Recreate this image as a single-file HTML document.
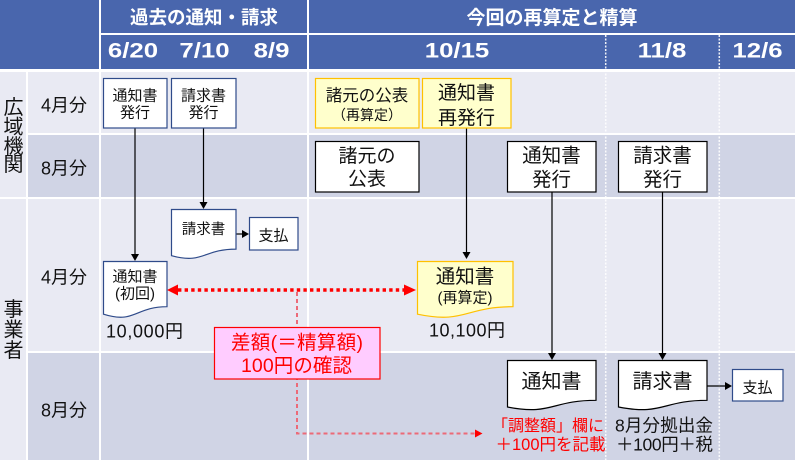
<!DOCTYPE html>
<html><head><meta charset="utf-8">
<style>
html,body{margin:0;padding:0;background:#fff;}
svg{display:block;}
text{font-family:"Liberation Sans","Noto Sans CJK JP",sans-serif;}
</style></head>
<body>
<svg width="795" height="460" viewBox="0 0 795 460" xmlns="http://www.w3.org/2000/svg">
<rect x="0" y="0" width="795" height="460" fill="#fff"/>
<!-- header -->
<rect x="0" y="0" width="795" height="69" fill="#4966ad"/>
<rect x="99" y="0" width="2" height="69" fill="#fff"/>
<rect x="307" y="0" width="2" height="69" fill="#fff"/>
<rect x="101" y="33" width="694" height="2" fill="#fff"/>
<!-- body -->
<rect x="0" y="72" width="795" height="388" fill="#e9eaf3"/>
<rect x="28" y="135" width="767" height="62" fill="#d0d4e5"/>
<rect x="28" y="353" width="767" height="107" fill="#d0d4e5"/>
<rect x="26" y="72" width="2" height="388" fill="#fff"/>
<rect x="99" y="72" width="2" height="388" fill="#fff"/>
<rect x="307" y="72" width="2" height="388" fill="#fff"/>
<rect x="28" y="133" width="767" height="2" fill="#fff"/>
<rect x="0" y="197" width="795" height="2" fill="#fff"/>
<rect x="28" y="351" width="767" height="2" fill="#fff"/>
<line x1="605.7" y1="35" x2="605.7" y2="460" stroke="#fff" stroke-width="1.5" stroke-dasharray="2 1.5" opacity="0.9"/>
<line x1="719.3" y1="35" x2="719.3" y2="460" stroke="#fff" stroke-width="1.5" stroke-dasharray="2 1.5" opacity="0.9"/>

<!-- header text -->
<g fill="#fff" font-weight="bold" text-anchor="middle">
<text x="204" y="24" font-size="18.5">過去の通知・請求</text>
<text x="552" y="24" font-size="19">今回の再算定と精算</text>
<g font-size="21.5">
<text transform="translate(133,57.5) scale(1.2,1)" x="0" y="0">6/20</text>
<text transform="translate(204.5,57.5) scale(1.2,1)" x="0" y="0">7/10</text>
<text transform="translate(271.5,57.5) scale(1.2,1)" x="0" y="0">8/9</text>
<text transform="translate(457,57.5) scale(1.2,1)" x="0" y="0">10/15</text>
<text transform="translate(662,57.5) scale(1.2,1)" x="0" y="0">11/8</text>
<text transform="translate(757.5,57.5) scale(1.2,1)" x="0" y="0">12/6</text>
</g>
</g>

<!-- left labels -->
<g fill="#111" text-anchor="middle" font-size="20">
<text x="13.5" y="114.2">広</text>
<text x="13.5" y="133.7">域</text>
<text x="13.5" y="153.2">機</text>
<text x="13.5" y="171.2">関</text>
<text x="13.5" y="316.2">事</text>
<text x="13.5" y="336.7">業</text>
<text x="13.5" y="357.2">者</text>
</g>
<g fill="#111" text-anchor="middle" font-size="18">
<text x="64" y="111.5" textLength="46">4月分</text>
<text x="64" y="174.5" textLength="46">8月分</text>
<text x="64" y="283.5" textLength="46">4月分</text>
<text x="64" y="416.5" textLength="46">8月分</text>
</g>

<!-- connectors -->
<g stroke="#000" stroke-width="1.2" fill="none">
<line x1="135" y1="128" x2="135" y2="255"/>
<line x1="203.5" y1="128" x2="203.5" y2="203"/>
<line x1="236" y1="234" x2="243" y2="234"/>
<line x1="466.5" y1="128" x2="466.5" y2="253"/>
<line x1="552" y1="192" x2="552" y2="354"/>
<line x1="662.5" y1="192" x2="662.5" y2="354"/>
<line x1="707" y1="386" x2="726" y2="386"/>
</g>
<g fill="#000">
<path d="M131,254 L139,254 L135,261 Z"/>
<path d="M199.5,202 L207.5,202 L203.5,209 Z"/>
<path d="M242,230 L242,238 L249,234 Z"/>
<path d="M462.5,252 L470.5,252 L466.5,259 Z"/>
<path d="M548,353 L556,353 L552,360 Z"/>
<path d="M658.5,353 L666.5,353 L662.5,360 Z"/>
<path d="M725,382 L725,390 L732,386 Z"/>
</g>

<!-- pink dashed connector -->
<path d="M297,292 V433.5 H476" fill="none" stroke="#ec6a78" stroke-width="2" stroke-dasharray="4 3"/>
<path d="M475,429.5 L475,437.5 L482.5,433.5 Z" fill="#ff0000"/>

<!-- red dotted double arrow -->
<line x1="178" y1="290" x2="404" y2="290" stroke="#ff0000" stroke-width="3.5" stroke-dasharray="3.4 3.2"/>
<path d="M178,284.5 L178,295.5 L167,290 Z" fill="#ff0000"/>
<path d="M404,284.5 L404,295.5 L416,290 Z" fill="#ff0000"/>

<!-- top row boxes -->
<rect x="103.5" y="78.5" width="63.5" height="49.5" fill="#fff" stroke="#2f4b8a" stroke-width="1.2"/>
<rect x="171.5" y="78.5" width="64.5" height="49.5" fill="#fff" stroke="#2f4b8a" stroke-width="1.2"/>
<rect x="315.5" y="78.5" width="103.5" height="49.5" fill="#ffffcc" stroke="#ffc000" stroke-width="1.2"/>
<rect x="422.5" y="78.5" width="88.5" height="49.5" fill="#ffffcc" stroke="#ffc000" stroke-width="1.2"/>
<!-- second row boxes -->
<rect x="315.5" y="141.5" width="103.5" height="50.5" fill="#fff" stroke="#000" stroke-width="1.2"/>
<rect x="507.5" y="141.5" width="88.5" height="50.5" fill="#fff" stroke="#000" stroke-width="1.2"/>
<rect x="618.5" y="141.5" width="88.5" height="50.5" fill="#fff" stroke="#000" stroke-width="1.2"/>

<!-- documents -->
<path d="M171.5,209.5 H236 V249.1 C203.5,249.1 203.5,264.4 171.5,255.7 Z" fill="#fff" stroke="#2f4b8a" stroke-width="1.2"/>
<rect x="249.5" y="217.5" width="48.5" height="32.5" fill="#fff" stroke="#2f4b8a" stroke-width="1.2"/>
<path d="M103.5,261.5 H167 V306.7 C135,306.7 135,324.1 103.5,314.2 Z" fill="#fff" stroke="#2f4b8a" stroke-width="1.2"/>
<path d="M417.5,261.5 H513 V306.7 C465,306.7 465,324.1 417.5,314.2 Z" fill="#ffffcc" stroke="#ffc000" stroke-width="1.2"/>
<path d="M507.5,360.5 H596 V400.3 C551.5,400.3 551.5,415.7 507.5,407 Z" fill="#fff" stroke="#000" stroke-width="1.2"/>
<path d="M618.5,360.5 H707 V400.3 C662.5,400.3 662.5,415.7 618.5,407 Z" fill="#fff" stroke="#000" stroke-width="1.2"/>
<rect x="732.5" y="369.5" width="50.5" height="31.5" fill="#fff" stroke="#2f4b8a" stroke-width="1.2"/>

<!-- difference box -->
<rect x="214.5" y="327.5" width="165.5" height="51.5" fill="#ffccff" stroke="#ff0000" stroke-width="1.2"/>

<!-- box texts -->
<g fill="#111" text-anchor="middle">
<text x="135" y="100.4" font-size="15">通知書</text>
<text x="135" y="117.4" font-size="15">発行</text>
<text x="203.5" y="100.4" font-size="15">請求書</text>
<text x="203.5" y="117.4" font-size="15">発行</text>
<text x="367" y="101" font-size="16.5">諸元の公表</text>
<text x="367" y="120" font-size="14">（再算定）</text>
<text x="466.5" y="98.8" font-size="19">通知書</text>
<text x="466.5" y="123.8" font-size="19">再発行</text>
<text x="367" y="161.8" font-size="19">諸元の</text>
<text x="367" y="184.8" font-size="19">公表</text>
<text x="551.5" y="162" font-size="19.5">通知書</text>
<text x="551.5" y="186" font-size="19.5">発行</text>
<text x="662.5" y="162" font-size="19.5">請求書</text>
<text x="662.5" y="186" font-size="19.5">発行</text>
<text x="203.5" y="234.2" font-size="14.5">請求書</text>
<text x="273.5" y="240.4" font-size="15">支払</text>
<text x="135" y="281.4" font-size="15">通知書</text>
<text x="135" y="298.4" font-size="15">(初回)</text>
<text x="465" y="283" font-size="19.5">通知書</text>
<text x="465" y="302.4" font-size="15">(再算定)</text>
<text x="144.5" y="337.5" font-size="18" textLength="77">10,000円</text>
<text x="467" y="336.5" font-size="18" textLength="76">10,100円</text>
<text x="551.5" y="388.2" font-size="20">通知書</text>
<text x="662.5" y="388.2" font-size="20">請求書</text>
<text x="757.5" y="392.4" font-size="15">支払</text>
<text x="664" y="431.3" font-size="17.5" textLength="98">8月分拠出金</text>
<text x="664.5" y="450.3" font-size="17.5" textLength="97">＋100円＋税</text>
</g>
<g fill="#ff0000">
<text x="297" y="349" font-size="19.5" text-anchor="middle" textLength="132">差額(＝精算額)</text>
<text x="296.5" y="372" font-size="19.5" text-anchor="middle" textLength="111">100円の確認</text>
<text x="604" y="431" font-size="16" text-anchor="end">「調整額」欄に</text>
<text x="605.5" y="450" font-size="16.5" text-anchor="end">＋100円を記載</text>
</g>
</svg>
</body></html>
